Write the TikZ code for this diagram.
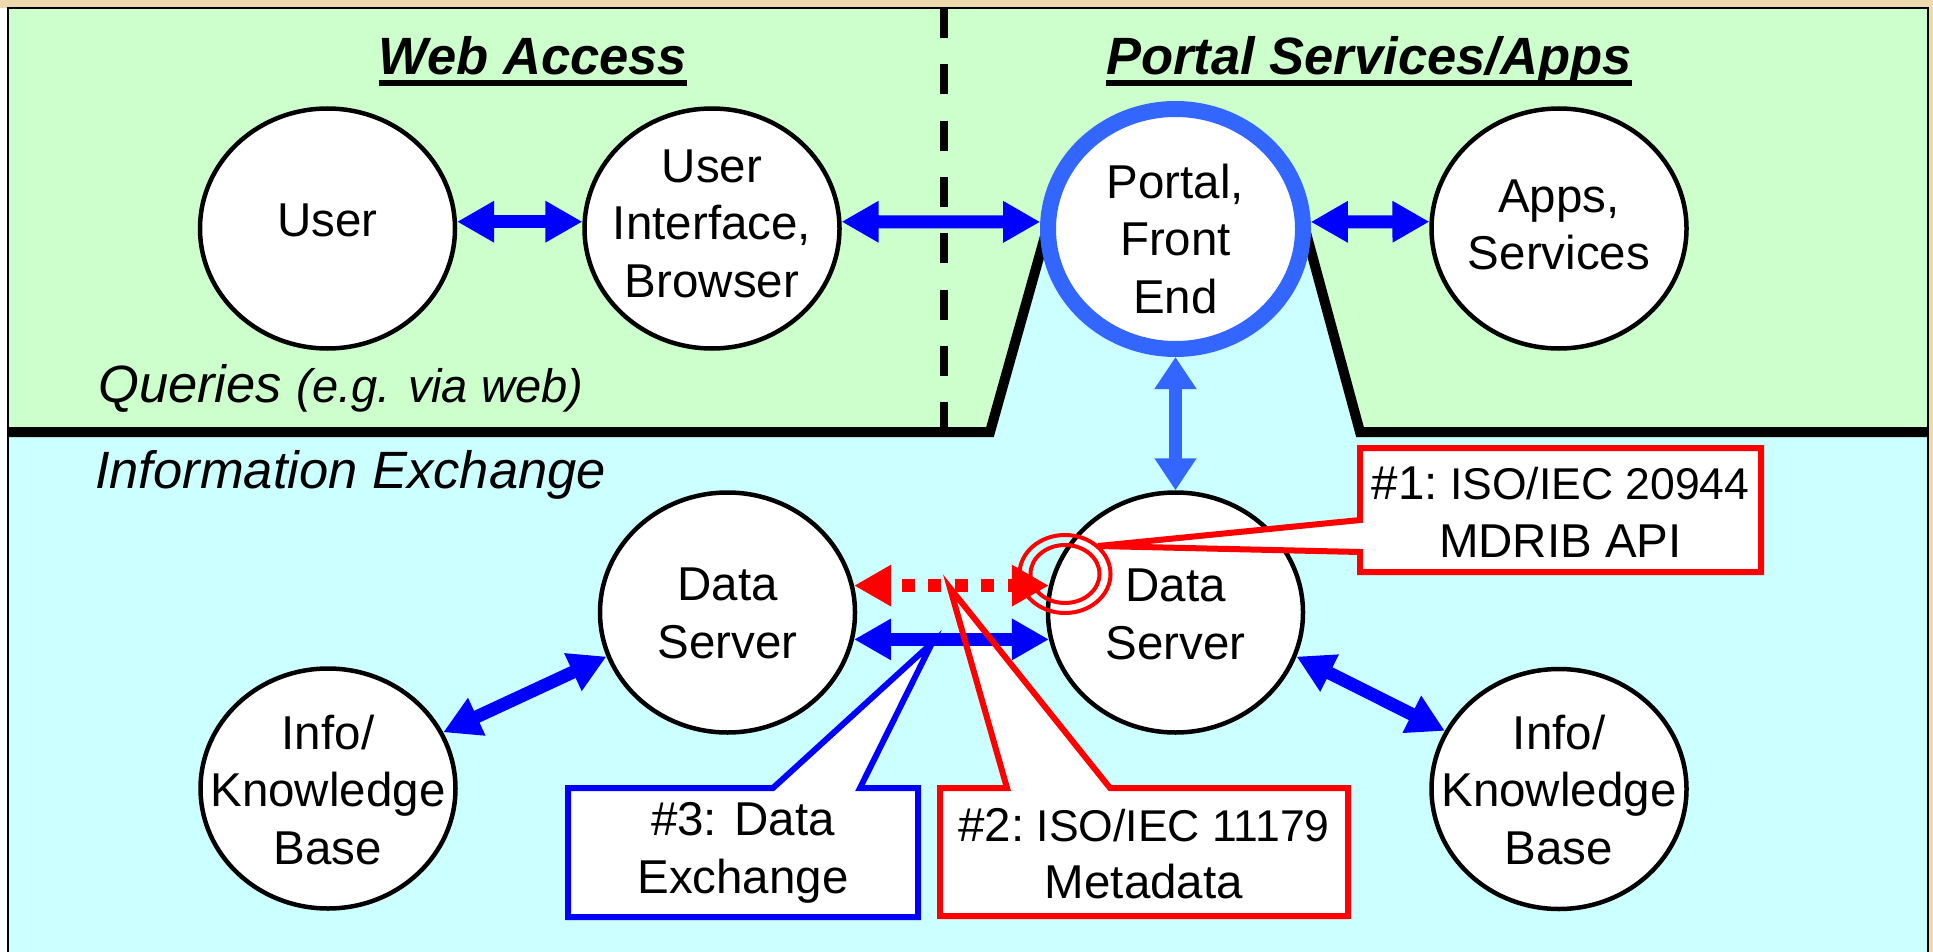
\documentclass[tikz,border=0pt]{standalone}
\usepackage{fontspec}
\setmainfont{Liberation Sans}
\usetikzlibrary{arrows.meta,shapes.geometric,calc}
\definecolor{bgbeige}{RGB}{238,216,174}
\definecolor{topgreen}{RGB}{204,255,204}
\definecolor{lowcyan}{RGB}{204,255,255}
\definecolor{ringblue}{RGB}{51,102,255}
\definecolor{arrblue}{RGB}{0,0,255}
\definecolor{callred}{RGB}{255,0,0}
\tikzset{
  ell/.style={ellipse, draw=black, line width=4.5pt, fill=white,
    minimum width=255pt, minimum height=240pt, inner sep=0pt},
  portalell/.style={ell, draw=ringblue, line width=16pt},
  etext/.style={align=center, font=\fontsize{47.5}{57.5}\selectfont, inner sep=0pt},
  headtext/.style={inner sep=0pt, anchor=base, font=\fontsize{52.5}{60}\selectfont\bfseries\itshape},
  sectext/.style={inner sep=0pt, anchor=base west, font=\fontsize{52.5}{60}\selectfont\itshape},
  bigtip/.tip={Triangle[length=37pt,width=39pt]},
  vtip/.tip={Triangle[length=32pt,width=40pt]},
  bluearr/.style={draw=arrblue, line width=13pt, bigtip-bigtip},
  ringarr/.style={draw=ringblue, line width=13pt, vtip-vtip},
  redarr/.style={draw=callred, line width=13pt, bigtip-bigtip,
    dash pattern=on 13pt off 13.5pt, dash phase=13.5pt},
  calloutred/.style={draw=callred, line width=6pt, line join=miter},
  calloutblue/.style={draw=arrblue, line width=6pt, line join=miter},
  ringmark/.style={ellipse, draw=callred, line width=4pt, inner sep=0pt},
}
\begin{document}
\begin{tikzpicture}[x=1pt,y=-1pt]
\useasboundingbox (0,0) rectangle (1933,952);
\clip (0,0) rectangle (1933,952);
% background and regions
\fill[bgbeige] (0,0) rectangle (1933,952);
\fill[white] (0,8) rectangle (8,952);
\fill[lowcyan] (8,8) rectangle (1928,960);
\fill[topgreen] (8,8) -- (1928,8) -- (1928,432) -- (1360,432) -- (1305,229)
  -- (1047,229) -- (990,432) -- (8,432) -- cycle;
\draw[line width=2.5pt] (8,970) -- (8,8) -- (1928,8) -- (1928,970);
\draw[line width=8pt, dash pattern=on 30pt off 26.3pt] (944,8) -- (944,430);
\draw[line width=10pt] (8,432) -- (990,432) -- (1047,229);
\draw[line width=10pt] (1305,229) -- (1360,432) -- (1928,432);
% headings and section labels
\node[headtext] (webh) at (533,75) {Web Access};
\draw[line width=6pt] ([yshift=-8pt]webh.base west) -- ([yshift=-8pt]webh.base east);
\node[headtext] (porth) at (1369,75) {Portal Services/Apps};
\draw[line width=6pt] ([yshift=-8pt]porth.base west) -- ([yshift=-8pt]porth.base east);
\node[sectext] (queries) at (98,402) {Queries {\fontsize{47}{57}\selectfont(e.g. via web)}};
\node[sectext] (infox) at (95,488) {Information Exchange};
% ellipses
\node[ell] (user) at (327.5,228.5) {};
\node[ell] (ui) at (712,228.5) {};
\node[portalell] (portal) at (1175.5,229) {};
\node[ell] (apps) at (1559,228.5) {};
\node[ell] (dsL) at (727.5,612.5) {};
\node[ell] (dsR) at (1175.5,612.5) {};
\node[ell] (ikbL) at (328,788.5) {};
\node[ell] (ikbR) at (1559,789) {};
\node[etext] (userT) at (327.5,220.5) {User};
\node[etext] (uiT) at (712,223.5) {User\\Interface,\\Browser};
\node[etext] (portalT) at (1175.5,239) {Portal,\\Front\\End};
\node[etext] (appsT) at (1559,225) {Apps,\\Services};
\node[etext] (dsLT) at (727.5,613.5) {Data\\Server};
\node[etext] (dsRT) at (1175.5,614.5) {Data\\Server};
\node[etext] (ikbLT) at (328,790) {Info/\\Knowledge\\Base};
\node[etext] (ikbRT) at (1559,790) {Info/\\Knowledge\\Base};
% callout fills (under the arrows)
\fill[white] (940,788) -- (1007,788) -- (950,588) -- (1110,788) -- (1348,788)
  -- (1348,916) -- (940,916) -- cycle;
\fill[white] (568,788) -- (773,788) -- (932,643) -- (860,788) -- (918,788)
  -- (918,917) -- (568,917) -- cycle;
% connectors
\draw[bluearr] (user.3) -- (ui.177);
\draw[bluearr] (ui.3) -- (portal.177);
\draw[bluearr] (portal.3) -- (apps.177);
\draw[ringarr] (portal.south) -- (dsR.north);
\draw[redarr] (dsL.12) -- (dsR.168);
\draw[bluearr] (dsL.-12) -- (dsR.-168);
\draw[bluearr] (ikbL.26) -- (dsL.200);
\draw[bluearr] (dsR.-20) -- (ikbR.153);
% callout outlines
\draw[calloutred] (940,788) -- (1007,788) -- (950,588) -- (1110,788) -- (1348,788)
  -- (1348,916) -- (940,916) -- cycle;
\draw[calloutblue] (568,788) -- (773,788) -- (932,643) -- (860,788) -- (918,788)
  -- (918,917) -- (568,917) -- cycle;
\draw[calloutred, fill=white] (1360,448) -- (1761,448) -- (1761,572) -- (1360,572)
  -- (1360,552) -- (1098,546) -- (1360,520) -- cycle;
\node[etext] (c1T) at (1560.5,512) {\#1:{\fontsize{44.5}{57.5}\selectfont\ ISO/IEC 20944}\\MDRIB API};
\node[etext] (c2T) at (1144,853.5) {\#2:{\fontsize{44.5}{57.5}\selectfont\ ISO/IEC 11179}\\Metadata};
\node[etext] (c3T) at (743,853) {\#3: Data\\Exchange};
% marker rings
\node[ringmark, minimum width=91pt, minimum height=78pt] (ringO) at (1065,574) {};
\node[ringmark, minimum width=69pt, minimum height=58pt] (ringI) at (1065,574) {};
\end{tikzpicture}
\end{document}
